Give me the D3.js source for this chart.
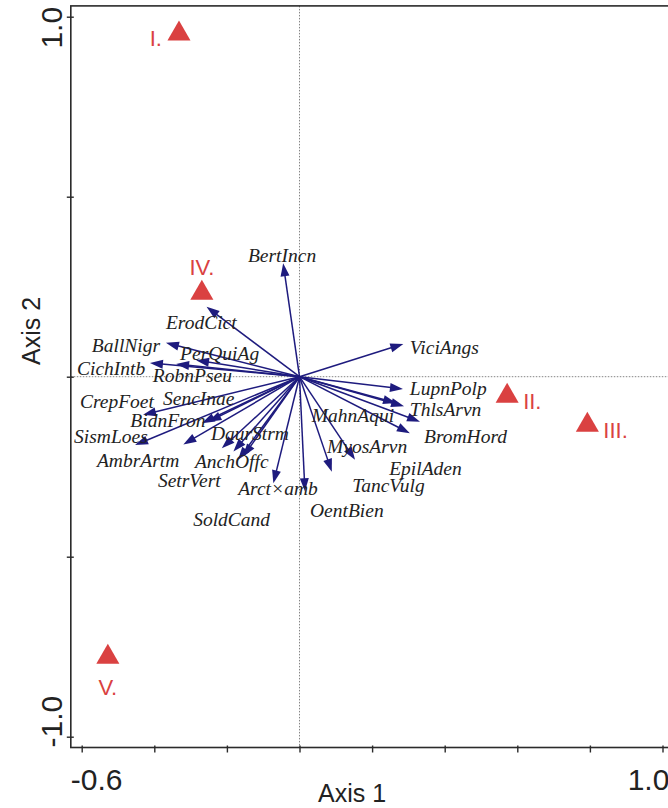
<!DOCTYPE html>
<html lang="en">
<head>
<meta charset="UTF-8">
<title>Ordination biplot</title>
<script src="https://d3js.org/d3.v7.min.js"></script>
<style>
  body { margin: 0; background: #fff; }
</style>
</head>
<body>
<svg id="chart" width="668" height="808"></svg>
<script>
// species arrows (axis 1, axis 2) and label anchors in axis units
const species = ["BertIncn","ErodCict","BallNigr","PerQuiAg","CichIntb","RobnPseu",
  "CrepFoet","SencInae","BidnFron","SismLoes","AmbrArtm","DaurStrm","AnchOffc",
  "SetrVert","Arct\u00d7amb","SoldCand","ViciAngs","LupnPolp","ThlsArvn","MahnAqui",
  "BromHord","EpilAden","MyosArvn","TancVulg","OentBien"];
const arrowX = [-0.045,-0.256,-0.368,-0.285,-0.412,-0.340,
  -0.431,-0.251,-0.269,-0.453,-0.320,-0.214,-0.169,
  -0.182,-0.072,-0.155,0.286,0.285,0.288,0.266,
  0.332,0.304,0.153,0.089,0.015];
const arrowY = [0.315,0.194,0.094,0.046,0.038,0.035,
  -0.106,-0.125,-0.129,-0.190,-0.188,-0.199,-0.231,
  -0.208,-0.296,-0.222,0.091,-0.034,-0.082,-0.073,
  -0.125,-0.157,-0.231,-0.264,-0.318];
const labelX = [-0.142,-0.368,-0.572,-0.329,-0.613,-0.404,
  -0.605,-0.376,-0.466,-0.621,-0.558,-0.244,-0.288,
  -0.390,-0.169,-0.293,0.304,0.304,0.304,0.034,
  0.343,0.247,0.076,0.145,0.029];
const labelY = [0.319,0.133,0.069,0.046,0.005,-0.015,
  -0.087,-0.079,-0.140,-0.184,-0.251,-0.176,-0.253,
  -0.306,-0.328,-0.415,0.063,-0.051,-0.109,-0.126,
  -0.184,-0.274,-0.213,-0.320,-0.390];

// sample sites
const sites = ["I.","II.","III.","IV.","V."];
const siteX = [-0.332, 0.572, 0.793, -0.269, -0.528];
const siteY = [0.958, -0.048, -0.129, 0.238, -0.773];
const sitePlace = ["left","right","right","above","below"];

const xTicks = [-0.6,-0.4,-0.2,0,0.2,0.4,0.6,0.8,1.0];
const yTicks = [-1,-0.5,0,0.5,1];
const xTickLabels = ["-0.6","1.0"];
const yTickLabels = ["-1.0","1.0"];

const width = 668, height = 808;
const svg = d3.select("#chart");

const x = d3.scaleLinear().domain([-0.6, 1.0]).range([81.7, 662.5]);
const y = d3.scaleLinear().domain([-1, 1]).range([736.7, 16.7]);
const pad = 0.03;
const frameL = x(-0.6 - pad), frameR = x(1.0 + pad), frameT = y(1 + pad), frameB = y(-1 - pad);

const ink = "#2b2b2b", blue = "#1e1b7e", red = "#da4141";

// zero lines
svg.append("line")
  .attr("x1", x(0)).attr("x2", x(0)).attr("y1", frameT).attr("y2", frameB)
  .attr("stroke", "#666").attr("stroke-width", 0.8).attr("stroke-dasharray", "1.5,1.5");
svg.append("line")
  .attr("x1", frameL).attr("x2", frameR).attr("y1", y(0)).attr("y2", y(0))
  .attr("stroke", "#666").attr("stroke-width", 0.8).attr("stroke-dasharray", "1.5,1.5");

// frame
svg.append("rect")
  .attr("x", frameL).attr("y", frameT).attr("width", frameR - frameL).attr("height", frameB - frameT)
  .attr("fill", "none").attr("stroke", ink).attr("stroke-width", 1.6);

// ticks
const gx = svg.append("g").attr("transform", `translate(0,${frameB})`)
  .call(d3.axisBottom(x).tickValues(xTicks).tickSize(7).tickFormat(""));
gx.select(".domain").remove();
gx.selectAll(".tick line").attr("y1", -2).attr("y2", 5).attr("stroke", ink).attr("stroke-width", 1.4);

const gy = svg.append("g").attr("transform", `translate(${frameL},0)`)
  .call(d3.axisLeft(y).tickValues(yTicks).tickSize(7).tickFormat(""));
gy.select(".domain").remove();
gy.selectAll(".tick line").attr("x1", 3).attr("x2", -4).attr("stroke", ink).attr("stroke-width", 1.4);

// tick labels at the ends, aligned with the frame
const tickFont = "'Liberation Sans', Arial, sans-serif";
svg.append("text").attr("x", frameL).attr("y", 790)
  .attr("text-anchor", "start").attr("font-family", tickFont).attr("font-size", 30)
  .attr("fill", "#222").text(xTickLabels[0]);
svg.append("text").attr("x", frameR - 4).attr("y", 790)
  .attr("text-anchor", "end").attr("font-family", tickFont).attr("font-size", 30)
  .attr("fill", "#222").text(xTickLabels[1]);
svg.append("text").attr("transform", `translate(62,${frameB}) rotate(-90)`)
  .attr("text-anchor", "start").attr("font-family", tickFont).attr("font-size", 30)
  .attr("fill", "#222").text(yTickLabels[0]);
svg.append("text").attr("transform", `translate(62,${frameT + 1}) rotate(-90)`)
  .attr("text-anchor", "end").attr("font-family", tickFont).attr("font-size", 30)
  .attr("fill", "#222").text(yTickLabels[1]);

// axis titles
svg.append("text").attr("x", 352).attr("y", 802).attr("text-anchor", "middle")
  .attr("font-family", tickFont).attr("font-size", 25).attr("fill", "#222").text("Axis 1");
svg.append("text").attr("transform", "translate(40,331) rotate(-90)").attr("text-anchor", "middle")
  .attr("font-family", tickFont).attr("font-size", 25).attr("fill", "#222").text("Axis 2");

// species arrows
const headLen = 13, headHalf = 4.5;
const arrows = svg.append("g");
species.forEach((name, i) => {
  const x0 = x(0), y0 = y(0), x1 = x(arrowX[i]), y1 = y(arrowY[i]);
  const dx = x1 - x0, dy = y1 - y0, len = Math.hypot(dx, dy);
  const ux = dx / len, uy = dy / len;
  const bx = x1 - ux * headLen, by = y1 - uy * headLen;
  arrows.append("line")
    .attr("x1", x0).attr("y1", y0).attr("x2", bx + ux).attr("y2", by + uy)
    .attr("stroke", blue).attr("stroke-width", 1.5);
  arrows.append("path")
    .attr("d", `M${x1},${y1}L${bx - uy * headHalf},${by + ux * headHalf}L${bx + uy * headHalf},${by - ux * headHalf}Z`)
    .attr("fill", blue);
});

// species labels
svg.append("g").selectAll("text").data(species).join("text")
  .attr("x", (d, i) => x(labelX[i]))
  .attr("y", (d, i) => y(labelY[i]))
  .attr("font-family", "'Liberation Serif', 'Times New Roman', serif")
  .attr("font-style", "italic").attr("font-size", 19.5).attr("fill", "#222")
  .text(d => d);

// sites
const triSym = d3.symbol().type(d3.symbolTriangle).size(230);
const siteG = svg.append("g");
sites.forEach((name, i) => {
  const cx = x(siteX[i]), cy = y(siteY[i]);
  siteG.append("path").attr("transform", `translate(${cx},${cy + 2})`)
    .attr("d", triSym()).attr("fill", red);
  let tx = cx, ty = cy, anchor = "middle";
  if (sitePlace[i] === "left") { tx = cx - 17; ty = cy + 14; anchor = "end"; }
  if (sitePlace[i] === "right") { tx = cx + 16; ty = cy + 15; anchor = "start"; }
  if (sitePlace[i] === "above") { ty = cy - 16; }
  if (sitePlace[i] === "below") { ty = cy + 40; }
  siteG.append("text").attr("x", tx).attr("y", ty).attr("text-anchor", anchor)
    .attr("font-family", tickFont).attr("font-size", 22).attr("fill", red).text(name);
});
</script>
</body>
</html>
